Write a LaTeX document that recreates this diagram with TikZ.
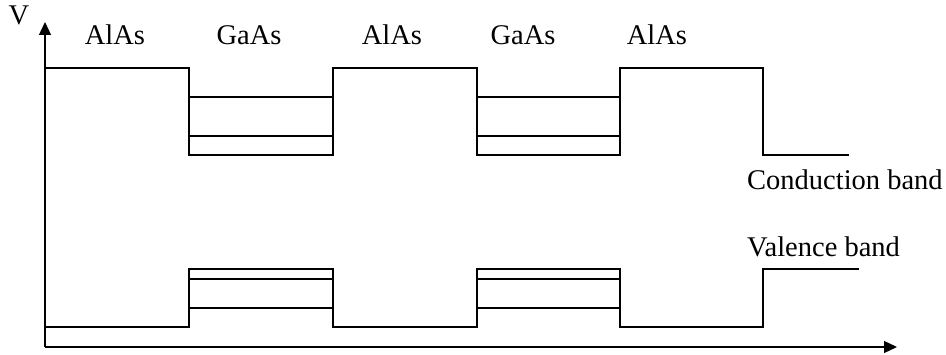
\documentclass[tikz,border=0pt]{standalone}
\usepackage{fontspec}
\setmainfont{Liberation Serif}
\usetikzlibrary{arrows.meta}
\begin{document}
\begin{tikzpicture}[x=1pt,y=-1pt,
  band/.style={line width=1.3pt},
  axis/.style={line width=1.3pt,-{Triangle[length=13pt,width=12pt]}},
  lbl/.style={font=\fontsize{28.5}{31}\selectfont,inner sep=0pt,anchor=base}]
\useasboundingbox (0,0) rectangle (946,355);
% axes
\coordinate (O) at (45,347);
\coordinate (Ytop) at (45,22);
\coordinate (Xend) at (897,347);
\draw[axis] (O) -- (Ytop);
\draw[axis] (O) -- (Xend);
% conduction band
\draw[band] (45,68) -- (189,68) -- (189,155) -- (333,155) -- (333,68) -- (477,68)
  -- (477,155) -- (620,155) -- (620,68) -- (763,68) -- (763,155) -- (849,155);
\draw[band] (189,97) -- (333,97);
\draw[band] (189,136) -- (333,136);
\draw[band] (477,97) -- (620,97);
\draw[band] (477,136) -- (620,136);
% valence band
\draw[band] (45,327) -- (189,327) -- (189,269) -- (333,269) -- (333,327) -- (477,327)
  -- (477,269) -- (620,269) -- (620,327) -- (763,327) -- (763,269) -- (859,269);
\draw[band] (189,279) -- (333,279);
\draw[band] (189,308) -- (333,308);
\draw[band] (477,279) -- (620,279);
\draw[band] (477,308) -- (620,308);
% labels
\node[lbl] (v) at (19,25) {V};
\node[lbl] (a1) at (115,45) {AlAs};
\node[lbl] (g1) at (249,45) {GaAs};
\node[lbl] (a2) at (392,45) {AlAs};
\node[lbl] (g2) at (523,45) {GaAs};
\node[lbl] (a3) at (657,45) {AlAs};
\node[lbl,anchor=base west] (cb) at (747,190) {Conduction band};
\node[lbl,anchor=base west] (vb) at (747,257) {Valence band};
\end{tikzpicture}
\end{document}
